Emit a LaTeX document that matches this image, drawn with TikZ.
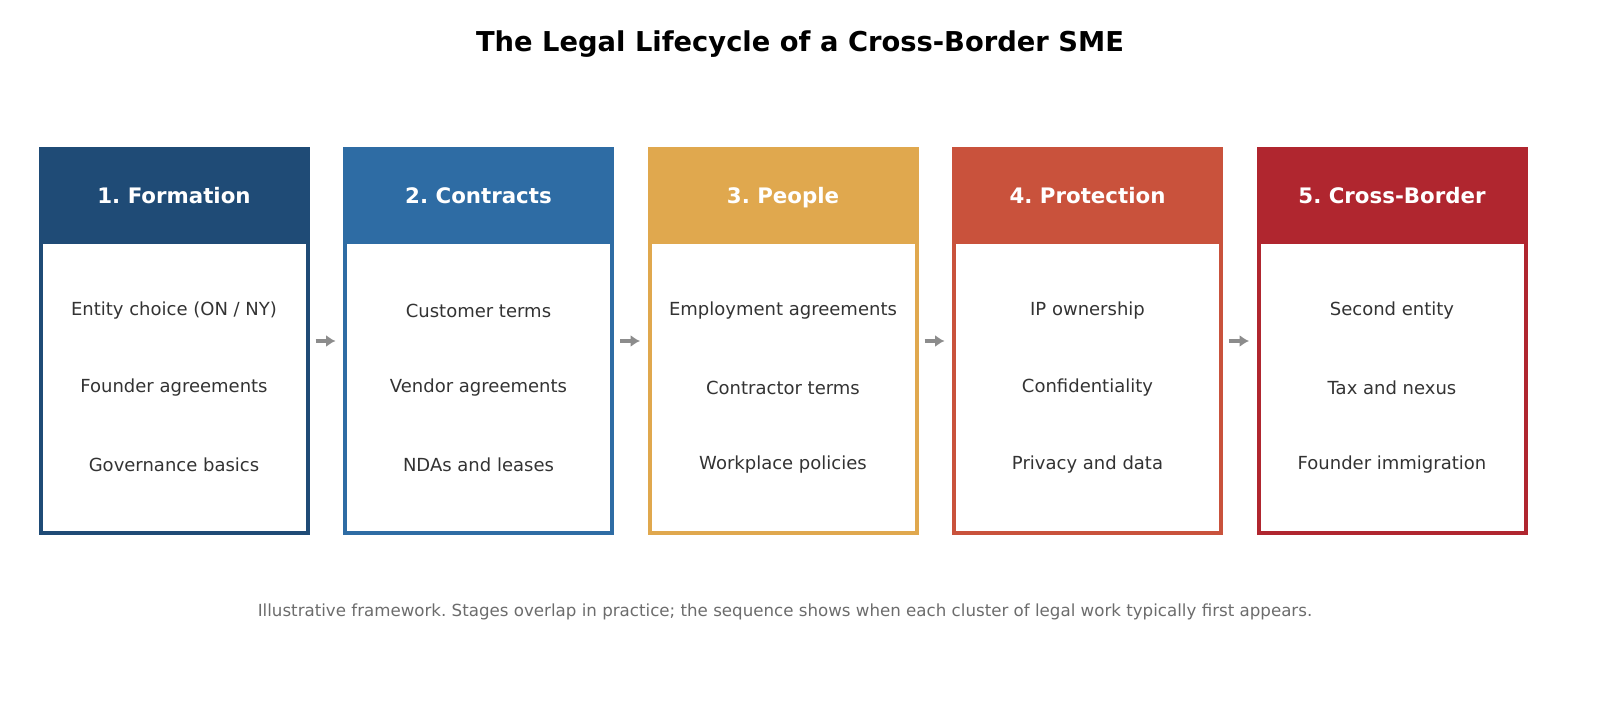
\documentclass[tikz,border=0pt]{standalone}
\usepackage{fontspec}
\setmainfont{DejaVu Sans}
\usetikzlibrary{arrows.meta}
\definecolor{c1}{HTML}{1F4B76}
\definecolor{c2}{HTML}{2E6CA4}
\definecolor{c3}{HTML}{E0A84E}
\definecolor{c4}{HTML}{C9523C}
\definecolor{c5}{HTML}{B0262F}
\definecolor{txt}{HTML}{333333}
\begin{document}
\frenchspacing
\begin{tikzpicture}[x=0.75pt,y=-0.75pt,
  item/.style={font=\fontsize{13.5}{16}\selectfont,text=txt},
  head/.style={font=\bfseries\fontsize{16}{19}\selectfont,text=white,text depth=0.25em,text height=0.75em},
  arr/.style={draw=gray!90,line width=3pt,-{Latex[length=7pt,width=9pt]}}]
\path[use as bounding box] (0,0) rectangle (1600,727);
\node[font=\bfseries\fontsize{20.5}{24}\selectfont] (title) at (800,44) {The Legal Lifecycle of a Cross-Border SME};
\foreach \i/\x/\c/\h/\a/\b/\d in {
 1/39/c1/1. Formation/{Entity choice (ON / NY)}/Founder agreements/Governance basics,
 2/343.5/c2/2. Contracts/Customer terms/Vendor agreements/NDAs and leases,
 3/648/c3/3. People/Employment agreements/Contractor terms/Workplace policies,
 4/952.5/c4/4. Protection/IP ownership/Confidentiality/Privacy and data,
 5/1257/c5/5. Cross-Border/Second entity/Tax and nexus/Founder immigration}{
 \fill[\c] (\x,148) rectangle ++(270,96);
 \draw[\c,line width=3pt] (\x+1.5,149.5) rectangle (\x+268.5,532.5);
 \node[head] (h\i) at (\x+135,200) {\h};
 \node[item] (a\i) at (\x+135,311) {\a};
 \node[item] (b\i) at (\x+135,388) {\b};
 \node[item] (d\i) at (\x+135,465) {\d};
 \coordinate (L\i) at (\x-28,341);
 \coordinate (R\i) at (\x-8,341);
}
\foreach \i in {2,3,4,5}{\draw[arr] (L\i) -- (R\i);}
\node[font=\fontsize{12.5}{15}\selectfont,text=gray!85!black] (cap) at (785,612) {Illustrative framework. Stages overlap in practice; the sequence shows when each cluster of legal work typically first appears.};
\end{tikzpicture}
\end{document}
